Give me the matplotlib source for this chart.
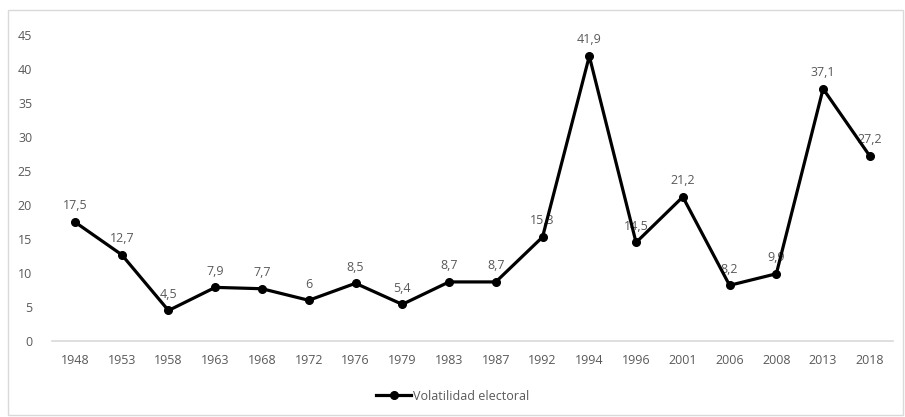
import matplotlib.pyplot as plt
from matplotlib.patches import Rectangle

# Datos
years = ['1948', '1953', '1958', '1963', '1968', '1972', '1976', '1979', '1983',
         '1987', '1992', '1994', '1996', '2001', '2006', '2008', '2013', '2018']
volatility = [17.5, 12.7, 4.5, 7.9, 7.7, 6, 8.5, 5.4, 8.7,
              8.7, 15.3, 41.9, 14.5, 21.2, 8.2, 9.9, 37.1, 27.2]
y_ticks = [0, 5, 10, 15, 20, 25, 30, 35, 40, 45]

plt.rcParams['font.family'] = ['Open Sans', 'DejaVu Sans']
text_color = '#595959'
grey_line = '#d9d9d9'

fig = plt.figure(figsize=(9.05, 4.17), dpi=100)
ax = fig.add_axes([0.057, 0.182, 0.930, 0.734])

x = range(len(years))
line, = ax.plot(x, volatility, color='black', linewidth=2.3, marker='o',
                markersize=5.5, zorder=3, label='Volatilidad electoral')

# Etiquetas de datos
for xi, v in zip(x, volatility):
    txt = ('%g' % v).replace('.', ',')
    ax.annotate(txt, (xi, v), xytext=(0, 7), textcoords='offset points',
                ha='center', va='bottom', fontsize=9, color=text_color, zorder=2)

ax.set_xlim(-0.5, len(years) - 0.5)
ax.set_ylim(0, 45)
ax.set_xticks(list(x))
ax.set_xticklabels(years)
ax.set_yticks(y_ticks)
ax.tick_params(axis='both', length=0, labelsize=9, labelcolor=text_color)
ax.tick_params(axis='x', pad=9)
ax.tick_params(axis='y', pad=14)

for side in ['top', 'right', 'left']:
    ax.spines[side].set_visible(False)
ax.spines['bottom'].set_color(grey_line)
ax.spines['bottom'].set_linewidth(1.2)

leg = fig.legend(handles=[line], loc='center', bbox_to_anchor=(0.5, 0.05),
                 frameon=False, fontsize=9, handlelength=2.8,
                 handletextpad=0.1)
for t in leg.get_texts():
    t.set_color(text_color)

# Borde del gráfico
fig.patches.append(Rectangle((0.009, 0.005), 0.989, 0.972, transform=fig.transFigure,
                             fill=False, edgecolor=grey_line, linewidth=1))

fig.savefig('out.png', dpi=100)
